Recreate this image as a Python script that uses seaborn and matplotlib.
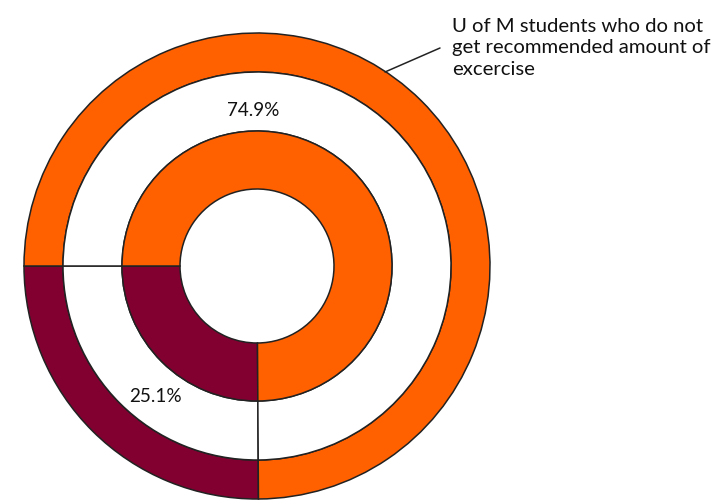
import matplotlib
matplotlib.use("Agg")
import matplotlib.pyplot as plt
import seaborn as sns

# -------------------------------
# Data
# -------------------------------
categories = ["Do not get recommended exercise", "Get recommended exercise"]
shares = [25.1, 74.9]          # percent, maroon first (drawn from 9 o'clock)
ring_colors = ["#820030", "#FF6000"]
pct_labels = ["25.1%", "74.9%"]
callout = "U of M students who do not\nget recommended amount of\nexcercise"

sns.set_theme(style="white")
plt.rcParams['font.family'] = ['Lato', 'DejaVu Sans']

fig = plt.figure(figsize=(7.11, 5.0), dpi=100)
ax = fig.add_axes([0, 0, 1, 1])

# pixel-like coordinate system (y up)
cx, cy = 257, 234
wedge_style = dict(edgecolor="#222222", linewidth=1.1)

# outer ring
ax.pie(shares, colors=ring_colors, startangle=180, counterclock=True,
       radius=233, center=(cx, cy),
       wedgeprops=dict(width=39, **wedge_style))
# white spacer ring (only its radial edges show)
ax.pie(shares, colors=["white", "white"], startangle=180, counterclock=True,
       radius=194, center=(cx, cy),
       wedgeprops=dict(width=59, **wedge_style))
# inner ring
ax.pie(shares, colors=ring_colors, startangle=180, counterclock=True,
       radius=135, center=(cx, cy),
       wedgeprops=dict(width=58, **wedge_style))

ax.set_xlim(0, 711)
ax.set_ylim(0, 500)
ax.set_aspect("equal")
ax.axis("off")

# percentage labels
ax.text(155.5, 500 - 397, pct_labels[0], ha="center", va="center", fontsize=13.6, color="#111111")
ax.text(253.5, 500 - 110, pct_labels[1], ha="center", va="center", fontsize=13.6, color="#111111")

# callout
ax.plot([385, 440], [500 - 72, 500 - 48], color="#222222", linewidth=1.1)
ax.text(452, 500 - 48, callout, ha="left", va="center", fontsize=14.6,
        linespacing=1.35, color="#111111")

fig.savefig("out.png", dpi=100)
